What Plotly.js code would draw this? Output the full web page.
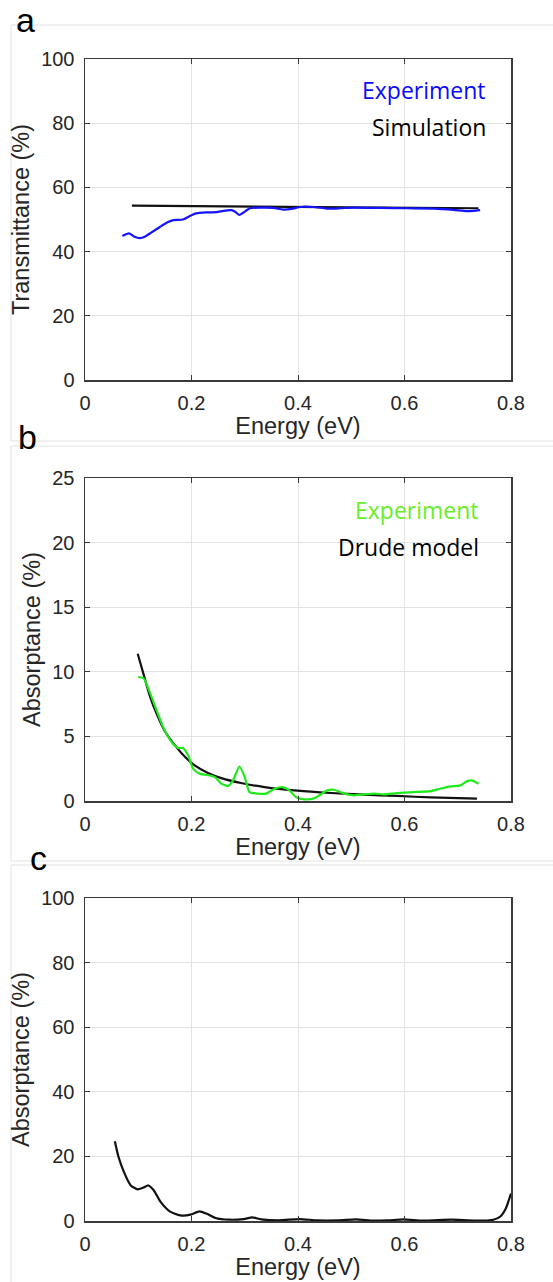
<!DOCTYPE html>
<html>
<head>
<meta charset="utf-8">
<script src="https://cdn.plot.ly/plotly-3.0.1.min.js"></script>
<style>html,body{margin:0;padding:0;background:#fff;}#chart{width:553px;height:1282px;}</style>
</head>
<body>
<div id="chart"></div>
<script>
// Panel a: Transmittance
const aExpX = [0.070,0.083,0.093,0.103,0.112,0.125,0.140,0.156,0.166,0.184,0.197,0.209,0.228,0.247,0.260,0.275,0.282,0.290,0.297,0.310,0.329,0.354,0.372,0.388,0.404,0.429,0.454,0.479,0.504,0.554,0.604,0.655,0.692,0.717,0.730,0.742];
const aExpY = [44.9,45.7,44.6,44.2,44.6,46.0,47.6,49.2,49.8,50.0,51.1,51.9,52.2,52.3,52.7,52.9,52.4,51.4,52.1,53.5,53.7,53.6,53.1,53.3,53.9,53.9,53.4,53.5,53.7,53.6,53.5,53.4,53.0,52.6,52.7,52.9];
const aSimX = [0.088,0.300,0.500,0.739];
const aSimY = [54.3,54.1,53.8,53.5];

// Panel b: Absorptance (experiment vs Drude model)
const bExpX = [0.100,0.110,0.119,0.131,0.147,0.163,0.175,0.184,0.194,0.203,0.216,0.231,0.244,0.256,0.269,0.278,0.290,0.300,0.309,0.325,0.340,0.356,0.371,0.384,0.396,0.412,0.431,0.455,0.468,0.487,0.505,0.524,0.543,0.561,0.586,0.617,0.649,0.667,0.686,0.705,0.717,0.726,0.739];
const bExpY = [9.6,9.5,8.7,7.4,5.7,4.55,4.1,4.1,3.5,2.5,2.1,2.0,1.85,1.34,1.16,1.6,2.67,1.85,0.69,0.57,0.57,0.95,1.08,0.82,0.31,0.13,0.21,0.82,0.87,0.57,0.44,0.51,0.57,0.51,0.62,0.69,0.77,0.95,1.13,1.21,1.52,1.6,1.34];
const bDrudeX = [0.099,0.110,0.122,0.135,0.150,0.169,0.188,0.206,0.231,0.256,0.293,0.337,0.399,0.462,0.524,0.586,0.649,0.736];
const bDrudeY = [11.4,9.8,8.1,6.7,5.4,4.3,3.4,2.75,2.16,1.77,1.39,1.08,0.80,0.62,0.49,0.39,0.28,0.18];

// Panel c: Absorptance
const cX = [0.056,0.063,0.073,0.086,0.099,0.109,0.119,0.129,0.142,0.159,0.179,0.198,0.215,0.228,0.245,0.271,0.298,0.314,0.331,0.364,0.403,0.436,0.476,0.509,0.542,0.569,0.598,0.635,0.688,0.734,0.767,0.780,0.790,0.800];
const cY = [24.7,19.8,15.2,11.0,9.8,10.3,11.0,9.5,5.9,3.0,1.75,1.96,3.0,2.3,0.93,0.4,0.6,1.1,0.5,0.2,0.6,0.2,0.2,0.5,0.1,0.2,0.5,0.1,0.4,0.1,0.4,1.4,3.8,8.5];

const xTicks = [0,0.2,0.4,0.6,0.8];
const xTickText = ['0','0.2','0.4','0.6','0.8'];

const W = 553, H = 1282;
const px = v => v / W;
const py = v => 1 - v / H;

const tickFont = {family:'Liberation Sans, Arial, sans-serif', size:20, color:'#262626'};
const titleFont = {family:'Liberation Sans, Arial, sans-serif', size:23.5, color:'#262626'};
const legFont = {family:'Open Sans, Noto Sans, sans-serif', size:23};

function xax(anchor){
  return {anchor:anchor, domain:[px(85), px(511)], range:[0,0.8], tickvals:xTicks, ticktext:xTickText,
    showgrid:true, gridcolor:'#e3e3e3', gridwidth:1, zeroline:false, showline:true, linecolor:'#3a3a3a', linewidth:1.5,
    mirror:'ticks', ticks:'inside', ticklen:5, tickcolor:'#3a3a3a', tickfont:tickFont, ticklabelstandoff:4,
    title:{text:'Energy (eV)', font:titleFont, standoff:5}, automargin:false, fixedrange:true};
}
function yax(anchor, top, bottom, max, dt, title){
  return {anchor:anchor, domain:[py(bottom), py(top)], range:[0,max], dtick:dt, tick0:0,
    showgrid:true, gridcolor:'#e3e3e3', gridwidth:1, zeroline:false, showline:true, linecolor:'#3a3a3a', linewidth:1.5,
    mirror:'ticks', ticks:'inside', ticklen:5, tickcolor:'#3a3a3a', tickfont:tickFont, ticklabelstandoff:5,
    title:{text:title, font:titleFont, standoff:5}, automargin:false, fixedrange:true};
}

const traces = [
  {x:aSimX, y:aSimY, xaxis:'x', yaxis:'y', mode:'lines', line:{color:'#111111', width:2.2}, name:'Simulation'},
  {x:aExpX, y:aExpY, xaxis:'x', yaxis:'y', mode:'lines', line:{color:'#1414ff', width:2.2, shape:'spline', smoothing:0.6}, name:'Experiment'},
  {x:bDrudeX, y:bDrudeY, xaxis:'x2', yaxis:'y2', mode:'lines', line:{color:'#111111', width:2.2, shape:'spline', smoothing:0.8}, name:'Drude model'},
  {x:bExpX, y:bExpY, xaxis:'x2', yaxis:'y2', mode:'lines', line:{color:'#1eea1a', width:2.2, shape:'spline', smoothing:0.6}, name:'Experiment'},
  {x:cX, y:cY, xaxis:'x3', yaxis:'y3', mode:'lines', line:{color:'#111111', width:2.2, shape:'spline', smoothing:0.6}, name:'Absorptance'}
];

const frameLine = {color:'#e2e2e2', width:1};
const shapes = [
  {type:'rect', xref:'paper', yref:'paper', x0:px(11), x1:px(600), y0:py(441), y1:py(25), line:frameLine},
  {type:'rect', xref:'paper', yref:'paper', x0:px(11), x1:px(600), y0:py(861), y1:py(446), line:frameLine},
  {type:'rect', xref:'paper', yref:'paper', x0:px(11), x1:px(600), y0:py(1300), y1:py(865), line:frameLine}
];

const annFont = {family:'Liberation Sans, Arial, sans-serif', size:34, color:'#000'};
const annotations = [
  {text:'a', xref:'paper', yref:'paper', x:px(25), y:py(20), xanchor:'center', yanchor:'middle', showarrow:false, font:annFont},
  {text:'b', xref:'paper', yref:'paper', x:px(27), y:py(437), xanchor:'center', yanchor:'middle', showarrow:false, font:annFont},
  {text:'c', xref:'paper', yref:'paper', x:px(38), y:py(858), xanchor:'center', yanchor:'middle', showarrow:false, font:annFont},
  {text:'Experiment', xref:'paper', yref:'paper', x:px(488), y:py(90), xanchor:'right', yanchor:'middle', showarrow:false, font:Object.assign({}, legFont, {color:'#0a0aff'})},
  {text:'Simulation', xref:'paper', yref:'paper', x:px(488), y:py(127), xanchor:'right', yanchor:'middle', showarrow:false, font:Object.assign({}, legFont, {color:'#000'})},
  {text:'Experiment', xref:'paper', yref:'paper', x:px(481), y:py(510), xanchor:'right', yanchor:'middle', showarrow:false, font:Object.assign({}, legFont, {color:'#66ee2a'})},
  {text:'Drude model', xref:'paper', yref:'paper', x:px(481), y:py(547), xanchor:'right', yanchor:'middle', showarrow:false, font:Object.assign({}, legFont, {color:'#000'})}
];

const layout = {
  width:W, height:H, margin:{l:0, r:0, t:0, b:0}, paper_bgcolor:'#ffffff', plot_bgcolor:'#ffffff',
  showlegend:false,
  xaxis:xax('y'), yaxis:yax('x', 59, 380, 100, 20, 'Transmittance (%)'),
  xaxis2:xax('y2'), yaxis2:yax('x2', 478, 801, 25, 5, 'Absorptance (%)'),
  xaxis3:xax('y3'), yaxis3:yax('x3', 898, 1221, 100, 20, 'Absorptance (%)'),
  shapes:shapes, annotations:annotations
};

Plotly.newPlot('chart', traces, layout, {displayModeBar:false, staticPlot:true});
</script>
</body>
</html>
